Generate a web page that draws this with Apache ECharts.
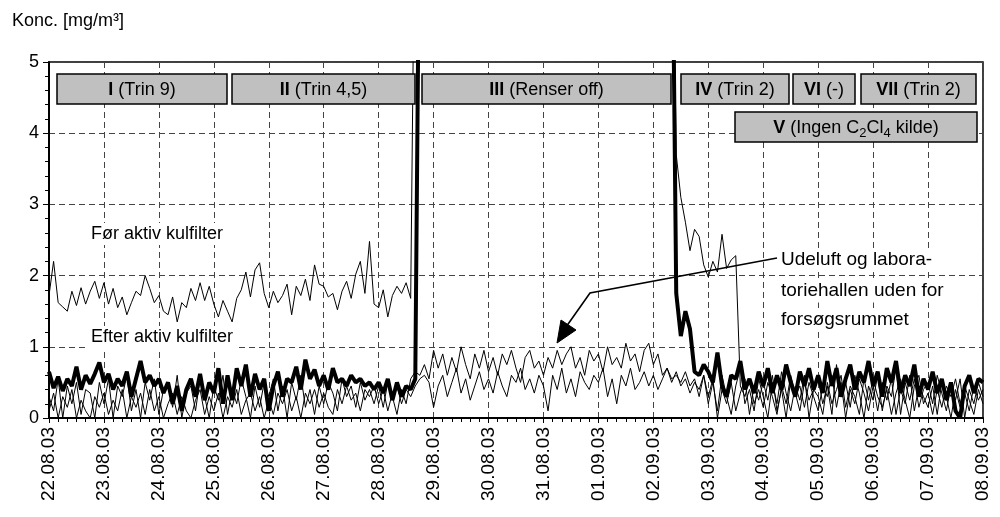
<!DOCTYPE html>
<html><head><meta charset="utf-8">
<script src="https://cdn.jsdelivr.net/npm/echarts@6/dist/echarts.min.js"></script>
<style>html,body{margin:0;padding:0;background:#fff}#c{width:1000px;height:517px}</style>
</head><body><div id="c"></div>
<script>
// ---- data (2-hour steps from 22.08.03 00:00) ----
const dateLabels = ['22.08.03','23.08.03','24.08.03','25.08.03','26.08.03','27.08.03','28.08.03','29.08.03','30.08.03','31.08.03','01.09.03','02.09.03','03.09.03','04.09.03','05.09.03','06.09.03','07.09.03','08.09.03'];
const stepDays = 2/24;
const OFF = 8; // above the 5 mg/m3 axis max (line leaves the plot)

const forData = [
 1.72,2.2,1.62,1.56,1.5,1.78,1.58,1.83,1.6,1.78,1.92,1.68,
 1.9,1.6,1.82,1.55,1.7,1.45,1.62,1.78,1.72,2.0,1.82,1.62,
 1.72,1.5,1.45,1.7,1.35,1.62,1.55,1.82,1.65,1.9,1.65,1.85,
 1.6,1.42,1.65,1.5,1.35,1.68,1.8,2.05,1.7,2.08,2.18,1.75,
 1.55,1.78,1.62,1.72,1.88,1.45,1.85,1.72,1.95,1.65,2.15,1.88,
 1.85,1.7,1.75,1.52,1.78,1.92,1.68,2.02,2.2,1.75,2.48,1.6,
 1.55,1.8,1.42,1.72,1.85,1.75,1.9,1.68,OFF,OFF,OFF,OFF,
 OFF,OFF,OFF,OFF,OFF,OFF,OFF,OFF,OFF,OFF,OFF,OFF,
 OFF,OFF,OFF,OFF,OFF,OFF,OFF,OFF,OFF,OFF,OFF,OFF,
 OFF,OFF,OFF,OFF,OFF,OFF,OFF,OFF,OFF,OFF,OFF,OFF,
 OFF,OFF,OFF,OFF,OFF,OFF,OFF,OFF,OFF,OFF,OFF,OFF,
 OFF,OFF,OFF,OFF,OFF,3.7,3.1,2.75,2.35,2.65,2.55,2.15,
 1.98,2.2,2.05,2.58,2.1,2.22,2.28,0.45,0.3,0.55,0.2,0.4,
 0.15,0.5,0.3,0.05,0.45,0.2,0.6,0.35,0.1,0.5,0.25,0.4,
 0.3,0.05,0.5,0.2,0.4,0.6,0.15,0.45,0.3,0.05,0.55,0.25,
 0.55,0.3,0.15,0.4,0.05,0.35,0.55,0.25,0.0,0.45,0.6,0.2,
 0.35,0.05,0.4,0.15,0.45,0.3,0.55,0.2,0.45,0.25,0.05,0.4,
 0.2];

const efterData = [
 0.65,0.42,0.58,0.38,0.55,0.45,0.72,0.4,0.6,0.48,0.62,0.78,
 0.5,0.62,0.4,0.55,0.45,0.65,0.3,0.55,0.8,0.5,0.6,0.45,
 0.55,0.35,0.5,0.2,0.45,0.1,0.4,0.55,0.3,0.62,0.25,0.5,
 0.35,0.7,0.2,0.6,0.25,0.7,0.45,0.75,0.3,0.62,0.4,0.55,
 0.1,0.45,0.65,0.3,0.55,0.5,0.72,0.4,0.82,0.55,0.68,0.45,
 0.6,0.4,0.7,0.5,0.55,0.45,0.6,0.5,0.55,0.45,0.5,0.4,
 0.5,0.35,0.55,0.25,0.5,0.3,0.45,0.4,0.55,OFF,OFF,OFF,
 OFF,OFF,OFF,OFF,OFF,OFF,OFF,OFF,OFF,OFF,OFF,OFF,
 OFF,OFF,OFF,OFF,OFF,OFF,OFF,OFF,OFF,OFF,OFF,OFF,
 OFF,OFF,OFF,OFF,OFF,OFF,OFF,OFF,OFF,OFF,OFF,OFF,
 OFF,OFF,OFF,OFF,OFF,OFF,OFF,OFF,OFF,OFF,OFF,OFF,
 OFF,OFF,OFF,OFF,OFF,1.75,1.15,1.5,1.25,0.65,0.6,0.75,
 0.65,0.5,0.92,0.45,0.3,0.6,0.55,0.8,0.4,0.55,0.35,0.65,
 0.45,0.7,0.35,0.6,0.4,0.75,0.5,0.3,0.65,0.45,0.7,0.4,
 0.6,0.35,0.8,0.45,0.7,0.3,0.55,0.75,0.4,0.65,0.5,0.8,
 0.45,0.65,0.3,0.7,0.5,0.8,0.35,0.6,0.45,0.75,0.3,0.55,
 0.4,0.65,0.35,0.55,0.25,0.5,0.1,0.0,0.45,0.6,0.35,0.55,
 0.5];

const udeluftData = [
 0.3,0.1,0.55,0.0,0.45,0.2,0.5,0.05,0.4,0.35,0.0,0.5,
 0.2,0.55,0.0,0.45,0.3,0.6,0.1,0.4,0.0,0.5,0.25,0.55,
 0.05,0.4,0.5,0.15,0.6,0.0,0.35,0.45,0.1,0.55,0.3,0.0,
 0.45,0.25,0.6,0.05,0.4,0.2,0.55,0.3,0.0,0.45,0.15,0.5,
 0.3,0.55,0.1,0.45,0.0,0.5,0.25,0.6,0.15,0.4,0.05,0.45,
 0.2,0.5,0.35,0.1,0.55,0.3,0.45,0.15,0.5,0.25,0.4,0.2,
 0.45,0.15,0.5,0.3,0.05,0.4,0.2,0.55,0.65,0.6,0.75,0.55,
 0.95,0.7,0.9,0.6,0.85,0.65,1.0,0.75,0.55,0.9,0.7,0.95,
 0.65,0.85,0.6,0.9,0.75,0.95,0.7,0.5,0.85,0.95,0.7,0.8,
 0.6,0.85,0.7,0.95,0.75,0.9,1.0,0.7,0.85,0.6,0.95,0.8,
 0.9,0.65,1.0,0.75,0.85,0.7,1.05,0.8,0.9,0.65,0.95,1.05,
 0.75,0.9,0.6,0.7,0.55,0.6,0.5,0.65,0.45,0.55,0.3,0.6,
 0.2,0.5,0.1,0.6,0.3,0.05,0.45,0.7,0.2,0.4,0.1,0.55,
 0.3,0.0,0.5,0.2,0.65,0.35,0.1,0.45,0.25,0.6,0.0,0.4,
 0.55,0.2,0.45,0.05,0.75,0.3,0.5,0.15,0.6,0.35,0.0,0.45,
 0.25,0.6,0.1,0.45,0.3,0.7,0.05,0.5,0.25,0.55,0.15,0.4,
 0.5,0.2,0.6,0.35,0.1,0.45,0.25,0.55,0.0,0.4,0.2,0.5,
 0.3];

const labHalData = [
 0.1,0.35,0.0,0.3,0.15,0.4,0.0,0.25,0.1,0.0,0.3,0.15,
 0.35,0.05,0.25,0.1,0.4,0.0,0.3,0.15,0.35,0.05,0.4,0.1,
 0.3,0.0,0.2,0.35,0.05,0.3,0.1,0.0,0.25,0.4,0.05,0.3,
 0.1,0.35,0.0,0.3,0.15,0.4,0.05,0.25,0.35,0.1,0.3,0.0,
 0.25,0.05,0.35,0.2,0.4,0.1,0.3,0.0,0.35,0.2,0.4,0.15,
 0.35,0.15,0.05,0.4,0.2,0.45,0.25,0.35,0.1,0.4,0.3,0.45,
 0.2,0.4,0.1,0.35,0.45,0.2,0.4,0.3,0.45,0.55,0.6,0.5,
 0.15,0.45,0.6,0.3,0.5,0.7,0.35,0.55,0.25,0.45,0.65,0.4,
 0.55,0.35,0.65,0.45,0.3,0.6,0.5,0.7,0.4,0.55,0.35,0.6,
 0.45,0.1,0.6,0.4,0.7,0.35,0.55,0.3,0.65,0.5,0.4,0.6,
 0.5,0.7,0.3,0.55,0.2,0.6,0.45,0.7,0.4,0.5,0.65,0.45,
 0.6,0.4,0.55,0.7,0.5,0.65,0.45,0.55,0.35,0.5,0.4,0.6,
 0.3,0.55,0.0,0.4,0.2,0.5,0.1,0.35,0.55,0.05,0.45,0.25,
 0.5,0.25,0.6,0.1,0.4,0.0,0.55,0.3,0.45,0.15,0.5,0.3,
 0.1,0.45,0.3,0.6,0.15,0.5,0.0,0.4,0.2,0.55,0.35,0.1,
 0.45,0.1,0.5,0.25,0.55,0.05,0.4,0.2,0.6,0.1,0.45,0.3,
 0.15,0.45,0.05,0.5,0.3,0.0,0.4,0.15,0.35,0.1,0.45,0.25,
 0.4];

// ---- chart ----
const FONT = '"Liberation Sans", Arial, sans-serif';
const toXY = arr => arr.map((v, i) => [i * stepDays, v]);
const chart = echarts.init(document.getElementById('c'), null, {renderer: 'canvas'});

const dashed = {color: '#444', width: 1, type: [6, 4]};
const thin = (name, arr) => ({name, type: 'line', data: toXY(arr),
  showSymbol: false, symbol: 'none', clip: true, lineStyle: {color: '#000', width: 1}, z: 2});

chart.setOption({
  animation: false,
  grid: {left: 49, right: 17, top: 62, bottom: 99, show: true, borderColor: '#000', borderWidth: 1.5, backgroundColor: 'transparent'},
  xAxis: {
    type: 'value', min: 0, max: 17, interval: 1,
    axisLine: {show: true, onZero: false, lineStyle: {color: '#000', width: 2}},
    axisTick: {show: true, length: 5, lineStyle: {color: '#000', width: 1}},
    minorTick: {show: true, splitNumber: 6, length: 4, lineStyle: {color: '#000', width: 1}},
    splitLine: {show: true, lineStyle: dashed},
    axisLabel: {rotate: 90, margin: 9, fontSize: 19, color: '#000', fontFamily: FONT,
      showMinLabel: true, showMaxLabel: true, formatter: v => dateLabels[Math.round(v)] || ''}
  },
  yAxis: {
    type: 'value', min: 0, max: 5, interval: 1,
    axisLine: {show: true, lineStyle: {color: '#000', width: 2}},
    axisTick: {show: true, length: 6, lineStyle: {color: '#000', width: 1}},
    minorTick: {show: true, splitNumber: 5, length: 4, lineStyle: {color: '#000', width: 1}},
    splitLine: {show: true, lineStyle: dashed},
    axisLabel: {margin: 10, fontSize: 18, color: '#000', fontFamily: FONT}
  },
  series: [
    thin('Laboratoriehallen', labHalData), thin('Udeluft', udeluftData), thin('Før aktiv kulfilter', forData),
    {name: 'Efter aktiv kulfilter', type: 'line', data: toXY(efterData), showSymbol: false, symbol: 'none', clip: true,
     lineStyle: {color: '#000', width: 4}, z: 3}
  ]
});

// ---- annotations (layout in pixels) ----
const boxStyle = {fill: '#c0c0c0', stroke: '#000', lineWidth: 1.5};
const rich = {
  b: {fontWeight: 'bold', fontSize: 18, fontFamily: FONT, fill: '#000', lineHeight: 24},
  n: {fontSize: 18, fontFamily: FONT, fill: '#000', lineHeight: 24},
  s: {fontSize: 13, fontFamily: FONT, fill: '#000', lineHeight: 9, verticalAlign: 'bottom'}
};
const boxes = [
  {x: 57, y: 74, w: 170, h: 30, t: '{b|I}{n| (Trin 9)}'},
  {x: 232, y: 74, w: 183, h: 30, t: '{b|II}{n| (Trin 4,5)}'},
  {x: 422, y: 74, w: 249, h: 30, t: '{b|III}{n| (Renser off)}'},
  {x: 681, y: 74, w: 108, h: 30, t: '{b|IV}{n| (Trin 2)}'},
  {x: 793, y: 74, w: 62, h: 30, t: '{b|VI}{n| (-)}'},
  {x: 861, y: 74, w: 115, h: 30, t: '{b|VII}{n| (Trin 2)}'},
  {x: 735, y: 112, w: 242, h: 30, t: '{b|V}{n| (Ingen C}{s|2}{n|Cl}{s|4}{n| kilde)}'}
];
const graphic = [];
boxes.forEach(b => {
  graphic.push({type: 'rect', shape: {x: b.x, y: b.y, width: b.w, height: b.h}, style: boxStyle, z: 10});
  graphic.push({type: 'text', x: b.x + b.w / 2, y: b.y + b.h / 2 + 1, z: 11,
    style: {text: b.t, rich, align: 'center', verticalAlign: 'middle', fontSize: 18, fontFamily: FONT, fill: '#000'}});
});
const txt = (x, y, s, size, bg) => ({type: 'text', x, y, z: 11,
  style: Object.assign({text: s, fontSize: size, fontFamily: FONT, fill: '#000', align: 'left', verticalAlign: 'middle'},
    bg ? {backgroundColor: '#fff', padding: [2, 3, 2, 3]} : {})});
graphic.push({type: 'polyline', z: 11, shape: {points: [[777, 258], [590, 293], [566, 327]]}, style: {stroke: '#000', lineWidth: 1.6, fill: null}});
graphic.push({type: 'polygon', z: 11, shape: {points: [[557, 343], [561, 320], [576, 330]]}, style: {fill: '#000', stroke: '#000', lineWidth: 1}});
graphic.push(txt(12, 21, 'Konc. [mg/m³]', 18, false));
graphic.push(txt(88, 234, 'Før aktiv kulfilter', 18, true));
graphic.push(txt(88, 337, 'Efter aktiv kulfilter', 18, true));
graphic.push(txt(778, 260, 'Udeluft og labora-', 19, true));
graphic.push(txt(778, 291, 'toriehallen uden for', 19, true));
graphic.push(txt(778, 320, 'forsøgsrummet', 19, true));
chart.setOption({graphic});
</script>
</body></html>
